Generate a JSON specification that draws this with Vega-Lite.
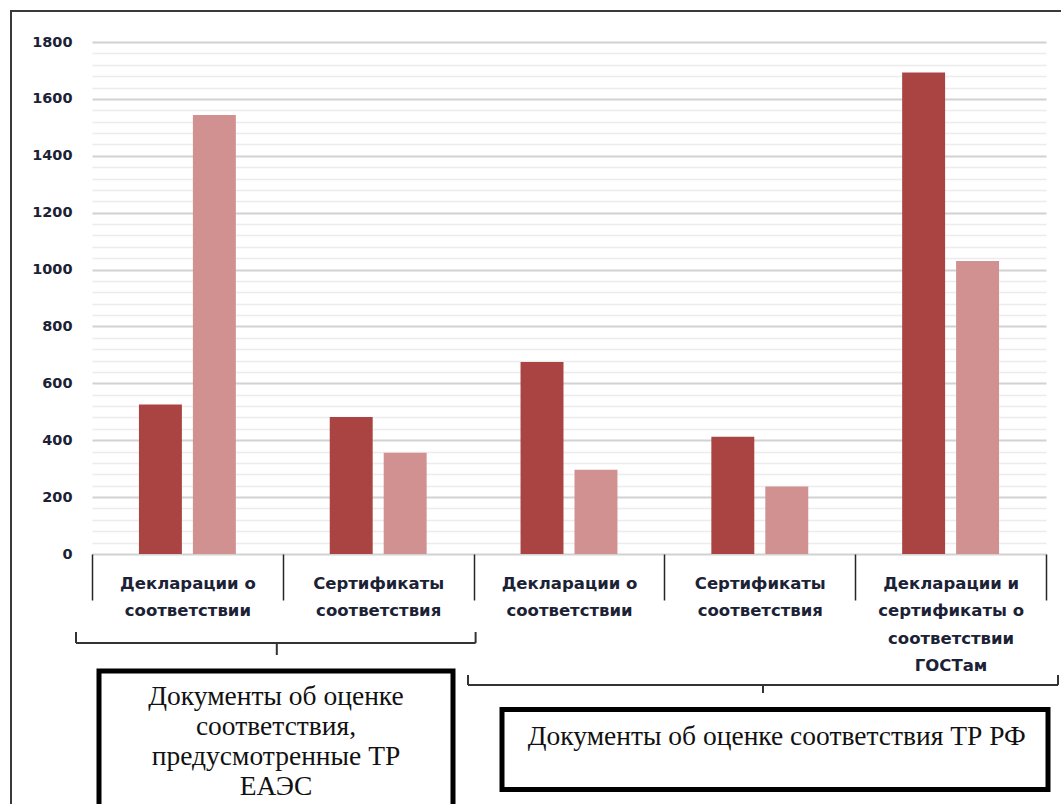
{
  "$schema": "https://vega.github.io/schema/vega-lite/v6.json",
  "width": 954,
  "height": 512,
  "autosize": {"type": "none"},
  "padding": {"left": 92, "top": 42, "right": 15, "bottom": 250},
  "background": "white",
  "config": {"view": {"stroke": null}, "font": "DejaVu Sans"},
  "datasets": {
    "bars": [
      {"category": "ТР ЕАЭС: Декларации о соответствии", "series": "Ряд 1", "value": 526},
      {"category": "ТР ЕАЭС: Декларации о соответствии", "series": "Ряд 2", "value": 1543},
      {"category": "ТР ЕАЭС: Сертификаты соответствия", "series": "Ряд 1", "value": 482},
      {"category": "ТР ЕАЭС: Сертификаты соответствия", "series": "Ряд 2", "value": 356},
      {"category": "ТР РФ: Декларации о соответствии", "series": "Ряд 1", "value": 675},
      {"category": "ТР РФ: Декларации о соответствии", "series": "Ряд 2", "value": 296},
      {"category": "ТР РФ: Сертификаты соответствия", "series": "Ряд 1", "value": 412},
      {"category": "ТР РФ: Сертификаты соответствия", "series": "Ряд 2", "value": 237},
      {"category": "ТР РФ: Декларации и сертификаты о соответствии ГОСТам", "series": "Ряд 1", "value": 1693},
      {"category": "ТР РФ: Декларации и сертификаты о соответствии ГОСТам", "series": "Ряд 2", "value": 1030}
    ],
    "groups": [
      {"group": "ТР ЕАЭС", "title": "Документы об оценке соответствия, предусмотренные ТР ЕАЭС", "first": "ТР ЕАЭС: Декларации о соответствии", "last": "ТР ЕАЭС: Сертификаты соответствия"},
      {"group": "ТР РФ", "title": "Документы об оценке соответствия ТР РФ", "first": "ТР РФ: Декларации о соответствии", "last": "ТР РФ: Декларации и сертификаты о соответствии ГОСТам"}
    ]
  },
  "layer": [
    {
      "data": {"name": "groups"},
      "transform": [{"filter": "datum.group === 'ТР ЕАЭС'"}],
      "mark": {"type": "rect", "fill": "transparent", "stroke": "#3a3a3a", "strokeWidth": 2},
      "encoding": {"x": {"value": -81}, "x2": {"value": 1010}, "y": {"value": -31}, "y2": {"value": 820}}
    },
    {
      "data": {"name": "bars"},
      "mark": {"type": "bar"},
      "encoding": {
        "x": {
          "field": "category",
          "type": "nominal",
          "scale": {
            "domain": [
              "ТР ЕАЭС: Декларации о соответствии",
              "ТР ЕАЭС: Сертификаты соответствия",
              "ТР РФ: Декларации о соответствии",
              "ТР РФ: Сертификаты соответствия",
              "ТР РФ: Декларации и сертификаты о соответствии ГОСТам"
            ],
            "paddingInner": 0,
            "paddingOuter": 0
          },
          "axis": {
            "title": null,
            "domain": false,
            "grid": false,
            "ticks": true,
            "tickBand": "extent",
            "tickSize": 46,
            "tickColor": "#262626",
            "tickWidth": 1.5,
            "labelAngle": 0,
            "labelFont": "DejaVu Sans",
            "labelFontWeight": "bold",
            "labelFontSize": 16.5,
            "labelColor": "#1c2235",
            "labelLineHeight": 27.5,
            "labelPadding": -25,
            "labelBaseline": "top",
            "labelLimit": 0,
            "labelOverlap": false,
            "labelExpr": "isString(datum.value) ? split(replace(split(datum.value, ': ')[1], regexp(' (?!\\\\S( |$))', 'g'), '\\n'), '\\n') : ''"
          }
        },
        "xOffset": {"field": "series", "type": "nominal", "scale": {"paddingInner": 0.204, "paddingOuter": 0.87}},
        "y": {
          "field": "value",
          "type": "quantitative",
          "scale": {"domain": [0, 1800], "nice": false},
          "axis": {
            "title": null,
            "values": [0, 40, 80, 120, 160, 200, 240, 280, 320, 360, 400, 440, 480, 520, 560, 600, 640, 680, 720, 760, 800, 840, 880, 920, 960, 1000, 1040, 1080, 1120, 1160, 1200, 1240, 1280, 1320, 1360, 1400, 1440, 1480, 1520, 1560, 1600, 1640, 1680, 1720, 1760, 1800],
            "format": "d",
            "domain": false,
            "ticks": false,
            "labelOverlap": false,
            "labelFlush": false,
            "labelBound": false,
            "labelExpr": "datum.value % 200 === 0 ? datum.label : ''",
            "labelPadding": 20,
            "labelFont": "DejaVu Sans",
            "labelFontWeight": "bold",
            "labelFontSize": 14.5,
            "labelColor": "#1c2235",
            "grid": true,
            "gridColor": {"condition": {"test": "datum.value % 200 === 0", "value": "#d2d2d2"}, "value": "#ececec"},
            "gridWidth": {"condition": {"test": "datum.value % 200 === 0", "value": 2}, "value": 1.5}
          }
        },
        "color": {"field": "series", "type": "nominal", "scale": {"range": ["#a94442", "#d19190"]}, "legend": null}
      }
    },
    {
      "data": {"name": "groups"},
      "transform": [{"filter": "datum.group === 'ТР ЕАЭС'"}],
      "mark": {"type": "rule", "color": "#333333", "strokeWidth": 2, "xOffset": -16, "x2Offset": 2},
      "encoding": {
        "x": {"field": "first", "type": "nominal", "bandPosition": 0},
        "x2": {"field": "last", "bandPosition": 1},
        "y": {"value": 601}
      }
    },
    {
      "data": {"name": "groups"},
      "transform": [{"filter": "datum.group === 'ТР ЕАЭС'"}],
      "mark": {"type": "rule", "color": "#333333", "strokeWidth": 2, "xOffset": -16},
      "encoding": {"x": {"field": "first", "type": "nominal", "bandPosition": 0}, "y": {"value": 590}, "y2": {"value": 601}}
    },
    {
      "data": {"name": "groups"},
      "transform": [{"filter": "datum.group === 'ТР ЕАЭС'"}],
      "mark": {"type": "rule", "color": "#333333", "strokeWidth": 2, "xOffset": 2},
      "encoding": {"x": {"field": "last", "type": "nominal", "bandPosition": 1}, "y": {"value": 590}, "y2": {"value": 601}}
    },
    {
      "data": {"name": "groups"},
      "transform": [{"filter": "datum.group === 'ТР ЕАЭС'"}],
      "mark": {"type": "rule", "color": "#333333", "strokeWidth": 2, "xOffset": -6},
      "encoding": {"x": {"field": "last", "type": "nominal", "bandPosition": 0}, "y": {"value": 601}, "y2": {"value": 613}}
    },
    {
      "data": {"name": "groups"},
      "transform": [{"filter": "datum.group === 'ТР ЕАЭС'"}],
      "mark": {"type": "rect", "fill": "transparent", "stroke": "#000000", "strokeWidth": 5, "xOffset": 7, "x2Offset": -20.6},
      "encoding": {
        "x": {"field": "first", "type": "nominal", "bandPosition": 0},
        "x2": {"field": "last", "bandPosition": 1},
        "y": {"value": 629},
        "y2": {"value": 820}
      }
    },
    {
      "data": {"name": "groups"},
      "transform": [{"filter": "datum.group === 'ТР ЕАЭС'"}],
      "mark": {"type": "text", "font": "Liberation Serif", "fontSize": 27.5, "lineHeight": 30, "align": "center", "baseline": "middle", "xOffset": -6.8, "color": "#111111"},
      "encoding": {
        "x": {"field": "last", "type": "nominal", "bandPosition": 0},
        "y": {"value": 655},
        "text": {"value": ["Документы об оценке", "соответствия,", "предусмотренные ТР", "ЕАЭС"]}
      }
    },
    {
      "data": {"name": "groups"},
      "transform": [{"filter": "datum.group === 'ТР РФ'"}],
      "mark": {"type": "rule", "color": "#333333", "strokeWidth": 2, "xOffset": -5.6, "x2Offset": 12},
      "encoding": {
        "x": {"field": "first", "type": "nominal", "bandPosition": 0},
        "x2": {"field": "last", "bandPosition": 1},
        "y": {"value": 643}
      }
    },
    {
      "data": {"name": "groups"},
      "transform": [{"filter": "datum.group === 'ТР РФ'"}],
      "mark": {"type": "rule", "color": "#333333", "strokeWidth": 2, "xOffset": -5.6},
      "encoding": {"x": {"field": "first", "type": "nominal", "bandPosition": 0}, "y": {"value": 633}, "y2": {"value": 643}}
    },
    {
      "data": {"name": "groups"},
      "transform": [{"filter": "datum.group === 'ТР РФ'"}],
      "mark": {"type": "rule", "color": "#333333", "strokeWidth": 2, "xOffset": 12},
      "encoding": {"x": {"field": "last", "type": "nominal", "bandPosition": 1}, "y": {"value": 633}, "y2": {"value": 643}}
    },
    {
      "data": {"name": "groups"},
      "transform": [{"filter": "datum.group === 'ТР РФ'"}],
      "mark": {"type": "rule", "color": "#333333", "strokeWidth": 2, "xOffset": 3.2},
      "encoding": {"x": {"datum": "ТР РФ: Сертификаты соответствия", "type": "nominal", "bandPosition": 0.5}, "y": {"value": 643}, "y2": {"value": 651}}
    },
    {
      "data": {"name": "groups"},
      "transform": [{"filter": "datum.group === 'ТР РФ'"}],
      "mark": {"type": "rect", "fill": "transparent", "stroke": "#000000", "strokeWidth": 5, "xOffset": 28.4, "x2Offset": 2},
      "encoding": {
        "x": {"field": "first", "type": "nominal", "bandPosition": 0},
        "x2": {"field": "last", "bandPosition": 1},
        "y": {"value": 667.5},
        "y2": {"value": 747.5}
      }
    },
    {
      "data": {"name": "groups"},
      "transform": [{"filter": "datum.group === 'ТР РФ'"}],
      "mark": {"type": "text", "font": "Liberation Serif", "fontSize": 27.5, "align": "center", "baseline": "middle", "xOffset": 17, "color": "#111111"},
      "encoding": {
        "x": {"datum": "ТР РФ: Сертификаты соответствия", "type": "nominal", "bandPosition": 0.5},
        "y": {"value": 695},
        "text": {"field": "title"}
      }
    }
  ]
}
